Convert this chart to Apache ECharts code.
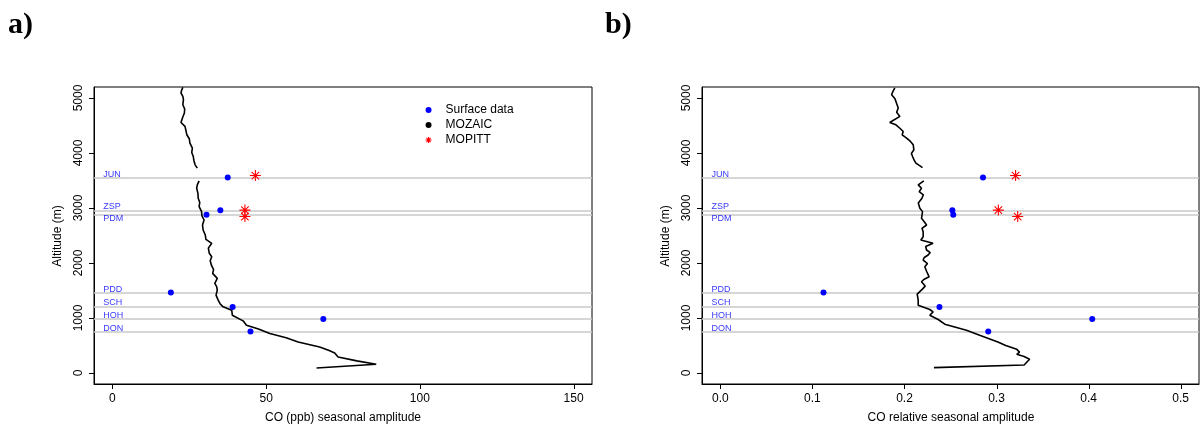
<!DOCTYPE html>
<html><head><meta charset="utf-8">
<script src="https://cdn.jsdelivr.net/npm/echarts@6/dist/echarts.min.js"></script>
<style>html,body{margin:0;padding:0;background:#fff}#c{width:1200px;height:430px}</style>
</head><body><div id="c"></div>
<script>
// Stations
const stations = ['JUN','ZSP','PDM','PDD','SCH','HOH','DON'];
const stationAlt = [3553, 2959, 2879, 1465, 1200, 984, 756];
// Panel a: CO (ppb) seasonal amplitude
const surfaceA = [37.5, 35.1, 30.6, 19.0, 39.1, 68.6, 44.9];
const mopittStations = ['JUN','ZSP','PDM'];
const mopittAlt = [3590, 2962, 2845];
const mopittA = [46.5, 43.1, 43.1];
// Panel b: CO relative seasonal amplitude
const surfaceB = [0.2853, 0.252, 0.253, 0.112, 0.238, 0.404, 0.291];
const mopittB = [0.3207, 0.302, 0.323];
// MOZAIC profiles (null = gap)
const mozAltA = [5193,5140,5091,5030,4969,4878,4800,4727,4640,4555,4483,4410,4331,4260,4180,4089,4010,3936,3860,3785,3724,null,
  3493,3420,3360,3270,3178,3100,3025,2934,2860,2782,2690,2600,2510,2431,2358,2270,2176,2114,2040,1960,1880,1811,1720,1629,1570,1507,1416,1325,1260,1203,1143,1051,948,869,800,718,640,565,474,410,364,292,220,159,140,91];
const mozA = [22.9,22.5,22.3,22.9,23.1,22.9,23.5,23.4,22.8,22.3,23.6,23.9,24.2,25.0,25.2,26.0,25.8,26.3,26.5,26.9,27.6,null,
  28.2,27.6,27.4,27.8,27.9,28.4,28.2,29.0,29.1,29.8,29.3,29.5,30.2,30.4,32.3,31.2,31.5,32.3,31.8,32.2,32.9,32.6,34.1,33.3,33.9,34.1,33.7,34.4,35.0,36.0,38.8,39.0,42.5,43.6,47.5,51.2,56.5,60.4,67.4,70.5,72.3,73.4,79.5,85.8,86.4,66.4];
const mozAltB = [5182,5120,5060,4990,4938,4818,4740,4665,4555,4513,4450,4391,4330,4271,4210,4149,4058,3990,3936,3870,3815,3735,null,
  3493,3420,3360,3298,3240,3178,3090,2996,2934,2813,2750,2691,2630,2569,2478,2418,2358,2300,2236,2190,2145,2100,2054,1990,1932,1850,1749,1700,1658,1580,1520,1434,1330,1234,1155,1112,1051,973,887,778,687,565,500,430,380,340,300,250,200,146,98];
const mozB = [0.1895,0.1875,0.186,0.1895,0.1907,0.1932,0.1915,0.195,0.184,0.1907,0.195,0.1986,0.1975,0.2023,0.2065,0.2095,0.2102,0.2075,0.2088,0.2105,0.2124,0.2196,null,
  0.221,0.2149,0.2185,0.216,0.2205,0.219,0.2150,0.2167,0.2196,0.2185,0.2215,0.224,0.2190,0.2203,0.2203,0.2178,0.231,0.2230,0.224,0.2280,0.2257,0.2215,0.2203,0.2250,0.2221,0.2240,0.2268,0.2210,0.2185,0.2225,0.2192,0.2138,0.2149,0.2149,0.2275,0.2311,0.2275,0.2366,0.2438,0.2673,0.2817,0.3015,0.31,0.322,0.325,0.322,0.33,0.336,0.333,0.33,0.232];
// Axis ticks
const xTicksA = [0, 50, 100, 150];
const xTicksB = [0, 0.1, 0.2, 0.3, 0.4, 0.5];
const yTicks = [0, 1000, 2000, 3000, 4000, 5000];
// Axis titles
const xTitleA = 'CO (ppb) seasonal amplitude';
const xTitleB = 'CO relative seasonal amplitude';
const yTitle = 'Altitude (m)';
// Label offsets (px) of station names relative to their altitude line
const labelDy = [-3, -4, 4, -3, -4, -3, -3];

const Y_MIN = -200, Y_MAX = 5200;
const X_RANGE = [[-6, 156], [-0.02, 0.52]];

const pair = (xs, ys) => xs.map((x, i) => (x === null || ys[i] === null) ? ['-', '-'] : [x, ys[i]]);
const FONT = 'Liberation Sans, Arial, sans-serif';
const starPath = 'path://M5,0 L5,10 M0,5 L10,5 M1.6,1.6 L8.4,8.4 M1.6,8.4 L8.4,1.6';

function xAxis(idx, ticks, dec) {
  return {
    type: 'value', gridIndex: idx, min: X_RANGE[idx][0], max: X_RANGE[idx][1],
    axisLine: { show: true, onZero: false, lineStyle: { color: '#000', width: 1 } }, splitLine: { show: false },
    axisTick: { show: false },
    axisLabel: { show: true, margin: 9, fontFamily: FONT, fontSize: 12, color: '#000', customValues: ticks,
      formatter: v => dec ? v.toFixed(1) : String(v) }
  };
}
function yAxis(idx) {
  return {
    type: 'value', gridIndex: idx, min: Y_MIN, max: Y_MAX,
    axisLine: { show: true, onZero: false, lineStyle: { color: '#000', width: 1 } }, splitLine: { show: false },
    axisTick: { show: false },
    axisLabel: { show: true, rotate: 90, margin: 9, fontFamily: FONT, fontSize: 12, color: '#000', customValues: yTicks,
      formatter: v => String(v) }
  };
}
// Tick marks drawn through the axes' own scales (custom series)
function xTickSeries(idx, ticks) {
  return {
    type: 'custom', name: 'xticks' + idx, xAxisIndex: idx, yAxisIndex: idx, silent: true, clip: false, z: 10,
    data: ticks.map(v => [v, Y_MIN]),
    renderItem: (params, api) => {
      const p = api.coord([api.value(0), api.value(1)]);
      const x = Math.round(p[0]) + 0.5;
      return { type: 'line', shape: { x1: x, y1: p[1], x2: x, y2: p[1] + 5 }, style: { stroke: '#000', lineWidth: 1 } };
    }
  };
}
function yTickSeries(idx) {
  return {
    type: 'custom', name: 'yticks' + idx, xAxisIndex: idx, yAxisIndex: idx, silent: true, clip: false, z: 10,
    data: yTicks.map(v => [X_RANGE[idx][0], v]),
    renderItem: (params, api) => {
      const p = api.coord([api.value(0), api.value(1)]);
      const y = Math.round(p[1]) + 0.5;
      return { type: 'line', shape: { x1: p[0], y1: y, x2: p[0] - 5, y2: y }, style: { stroke: '#000', lineWidth: 1 } };
    }
  };
}
function stationLines(idx) {
  return {
    type: 'line', name: 'lines' + idx, xAxisIndex: idx, yAxisIndex: idx, data: [], silent: true, z: 1,
    markLine: { silent: true, symbol: 'none', label: { show: false }, z: 1,
      lineStyle: { color: '#c8c8c8', width: 1.6, type: 'solid' },
      data: stationAlt.map(a => ({ yAxis: a })) }
  };
}
function stationLabels(idx, x) {
  return {
    type: 'scatter', name: 'labels' + idx, xAxisIndex: idx, yAxisIndex: idx, symbolSize: 0, silent: true, z: 3,
    data: stations.map((s, i) => ({ value: [x, stationAlt[i]], name: s,
      label: { offset: [0, labelDy[i]] } })),
    label: { show: true, position: 'right', distance: 0, formatter: p => p.name,
      fontFamily: FONT, fontSize: 9, color: '#0000ff' }
  };
}
function mozaic(idx, xs, ys) {
  return { type: 'line', name: 'MOZAIC', xAxisIndex: idx, yAxisIndex: idx, data: pair(xs, ys), z: 4,
    showSymbol: false, symbol: 'circle', connectNulls: false, silent: true,
    itemStyle: { color: '#000' }, lineStyle: { color: '#000', width: 1.6 } };
}
function surface(idx, xs) {
  return { type: 'scatter', name: 'Surface data', xAxisIndex: idx, yAxisIndex: idx, symbol: 'circle', symbolSize: 6, z: 5,
    itemStyle: { color: '#0000ff', opacity: 1 }, data: pair(xs, stationAlt), silent: true };
}
function mopitt(idx, xs) {
  return { type: 'scatter', name: 'MOPITT', xAxisIndex: idx, yAxisIndex: idx, symbol: starPath, symbolSize: 11, z: 5,
    itemStyle: { color: 'rgba(0,0,0,0)', borderColor: '#ff0000', borderWidth: 1.1, opacity: 1 }, data: pair(xs, mopittAlt), silent: true };
}
const titleStyle = t => ({ text: t, x: 0, y: 0, align: 'center', verticalAlign: 'middle', font: '12px ' + FONT, fill: '#000' });

const chart = echarts.init(document.getElementById('c'), null, { renderer: 'canvas' });
chart.setOption({
  animation: false,
  backgroundColor: '#fff',
  grid: [
    { left: 94, top: 87, width: 498, height: 297, show: true, borderColor: '#000', borderWidth: 1 },
    { left: 702, top: 87, width: 497, height: 297, show: true, borderColor: '#000', borderWidth: 1 }
  ],
  xAxis: [ xAxis(0, xTicksA, false), xAxis(1, xTicksB, true) ],
  yAxis: [ yAxis(0), yAxis(1) ],
  legend: {
    show: true, orient: 'vertical', left: 420, top: 98, itemWidth: 24, itemHeight: 6, itemGap: 1,
    symbolKeepAspect: true, selectedMode: false,
    textStyle: { fontFamily: FONT, fontSize: 12, color: '#000', lineHeight: 14 },
    data: [
      { name: 'Surface data', icon: 'circle', itemStyle: { color: '#0000ff' } },
      { name: 'MOZAIC', icon: 'circle', itemStyle: { color: '#000' } },
      { name: 'MOPITT', icon: starPath, itemStyle: { color: 'rgba(0,0,0,0)', borderColor: '#ff0000', borderWidth: 1.1 } }
    ]
  },
  graphic: [
    { type: 'text', left: 8, top: 10, style: { text: 'a)', font: 'bold 30px "Liberation Serif", serif', fill: '#000' } },
    { type: 'text', left: 605, top: 10, style: { text: 'b)', font: 'bold 30px "Liberation Serif", serif', fill: '#000' } },
    { type: 'text', x: 343, y: 418, style: titleStyle(xTitleA) },
    { type: 'text', x: 951, y: 418, style: titleStyle(xTitleB) },
    { type: 'text', x: 58, y: 236, rotation: Math.PI / 2, style: titleStyle(yTitle) },
    { type: 'text', x: 666, y: 236, rotation: Math.PI / 2, style: titleStyle(yTitle) }
  ],
  series: [
    stationLines(0), stationLabels(0, -3.0), mozaic(0, mozA, mozAltA), surface(0, surfaceA), mopitt(0, mopittA),
    xTickSeries(0, xTicksA), yTickSeries(0),
    stationLines(1), stationLabels(1, -0.0098), mozaic(1, mozB, mozAltB), surface(1, surfaceB), mopitt(1, mopittB),
    xTickSeries(1, xTicksB), yTickSeries(1)
  ]
});
</script>
</body></html>
